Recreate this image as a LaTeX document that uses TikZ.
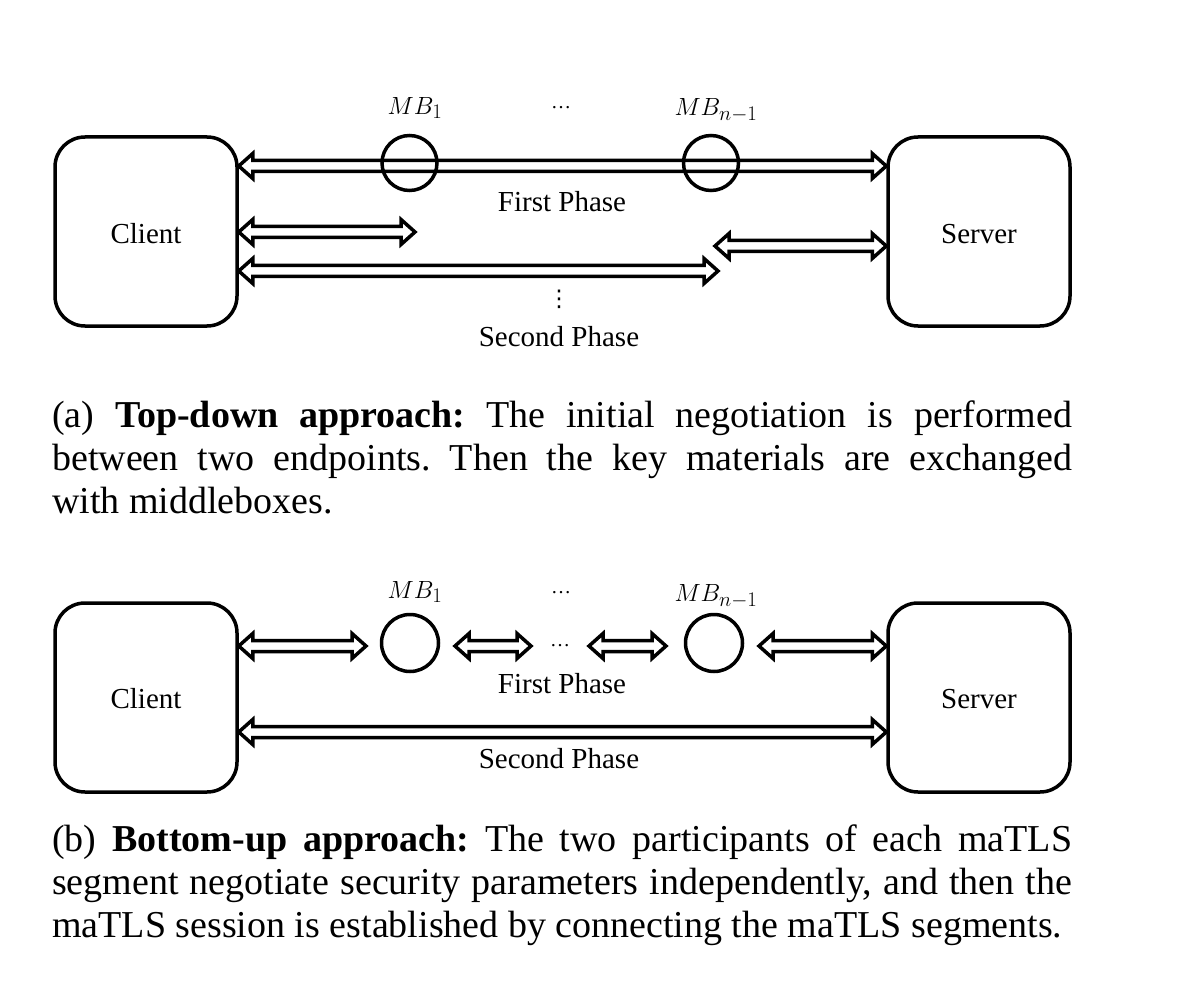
\documentclass[tikz,border=0pt]{standalone}
\usepackage{fontspec}
\setmainfont{Liberation Serif}
\newfontfamily\symfont{DejaVu Sans}
\usetikzlibrary{calc}
\newcommand\lblfont{\fontsize{29}{35}\selectfont}
\newcommand\capfont{\fontsize{38}{43}\selectfont\frenchspacing}
\newcommand\mbfont{\fontsize{31}{36}\selectfont}
\newcommand\dotfont{\fontsize{20}{24}\selectfont}
\tikzset{
  party/.style={draw, line width=3.5pt, rounded corners=30pt, minimum width=182pt,
    minimum height=189pt, inner sep=0pt, font=\lblfont},
  mbox/.style={draw, circle, line width=3.5pt, minimum size=55pt, inner sep=0pt},
  lbl/.style={inner sep=0pt, font=\lblfont},
  mblbl/.style={inner sep=0pt, font=\mbfont},
  dotlbl/.style={inner sep=0pt, font=\dotfont},
  captxt/.style={text width=1020pt, align=justify, inner sep=0pt, font=\capfont},
  dblarrow/.style={line width=3.5pt, line join=miter,
    to path={let \p1=(\tikztostart), \p2=(\tikztotarget) in
      (\x1,\y1) -- ({\x1+14pt},{\y1+12.5pt}) -- ({\x1+14pt},{\y1+5.5pt})
      -- ({\x2-14pt},{\y1+5.5pt}) -- ({\x2-14pt},{\y1+12.5pt}) -- (\x2,\y1)
      -- ({\x2-14pt},{\y1-12.5pt}) -- ({\x2-14pt},{\y1-5.5pt})
      -- ({\x1+14pt},{\y1-5.5pt}) -- ({\x1+14pt},{\y1-12.5pt}) -- cycle}}
}
\begin{document}
\begin{tikzpicture}[x=1pt,y=-1pt]
\useasboundingbox (0,0) rectangle (1180,984);
% ---------- panel (a)
\node[party] (cA) at (146,231.5) {};
\node[lbl] (tcA) at (146,234) {Client};
\node[party] (sA) at (979,231.5) {};
\node[lbl] (tsA) at (979,234) {Server};
\node[mbox] (m1A) at (409.5,163) {};
\node[mbox] (m2A) at (711,163) {};
\node[mblbl] (lm1A) at (415,108) {$MB_1$};
\node[dotlbl] (ldA) at (561,108) {\textellipsis};
\node[mblbl] (lm2A) at (716,110) {$MB_{n-1}$};
\coordinate (a1l) at (cA.east |- 0,166);
\coordinate (a1r) at (sA.west |- 0,166);
\draw[dblarrow] (a1l) to (a1r);
\node[lbl] (fpA) at (562,202) {First Phase};
\coordinate (a2l) at (cA.east |- 0,232);
\coordinate (a2r) at (415,232);
\draw[dblarrow] (a2l) to (a2r);
\coordinate (a3l) at (715,246);
\coordinate (a3r) at (sA.west |- 0,246);
\draw[dblarrow] (a3l) to (a3r);
\coordinate (a4l) at (cA.east |- 0,271);
\coordinate (a4r) at (718,271);
\draw[dblarrow] (a4l) to (a4r);
\node[inner sep=0pt, font=\symfont\fontsize{23}{26}\selectfont] (vdA) at (559,299) {⋮};
\node[lbl] (spA) at (559,337) {Second Phase};
\node[captxt, anchor=base west] (capA) at (52,427) {(a) \textbf{Top-down approach:} The initial negotiation is performed\linebreak between two endpoints. Then the key materials are exchanged\linebreak with middleboxes.};
% ---------- panel (b)
\node[party] (cB) at (146,697.5) {};
\node[lbl] (tcB) at (146,699) {Client};
\node[party] (sB) at (979,697.5) {};
\node[lbl] (tsB) at (979,699) {Server};
\node[mbox, minimum size=57pt] (m1B) at (410,643) {};
\node[mbox, minimum size=57pt] (m2B) at (714,643) {};
\node[mblbl] (lm1B) at (415,592) {$MB_1$};
\node[dotlbl] (ldB) at (561,593) {\textellipsis};
\node[mblbl] (lm2B) at (716,596) {$MB_{n-1}$};
\node[dotlbl] (ldmB) at (560,646) {\textellipsis};
\coordinate (b1l) at (cB.east |- 0,646);
\coordinate (b1r) at (366,646);
\draw[dblarrow] (b1l) to (b1r);
\coordinate (b2l) at (455,646);
\coordinate (b2r) at (531,646);
\draw[dblarrow] (b2l) to (b2r);
\coordinate (b3l) at (589,646);
\coordinate (b3r) at (666,646);
\draw[dblarrow] (b3l) to (b3r);
\coordinate (b4l) at (759,646);
\coordinate (b4r) at (sB.west |- 0,646);
\draw[dblarrow] (b4l) to (b4r);
\node[lbl] (fpB) at (562,684) {First Phase};
\coordinate (b5l) at (cB.east |- 0,732);
\coordinate (b5r) at (sB.west |- 0,732);
\draw[dblarrow] (b5l) to (b5r);
\node[lbl] (spB) at (559,759) {Second Phase};
\node[captxt, anchor=base west] (capB) at (52,851) {(b) \textbf{Bottom-up approach:} The two participants of each maTLS\linebreak segment negotiate security parameters independently, and then the\linebreak maTLS session is established by connecting the maTLS segments.};
\end{tikzpicture}
\end{document}
